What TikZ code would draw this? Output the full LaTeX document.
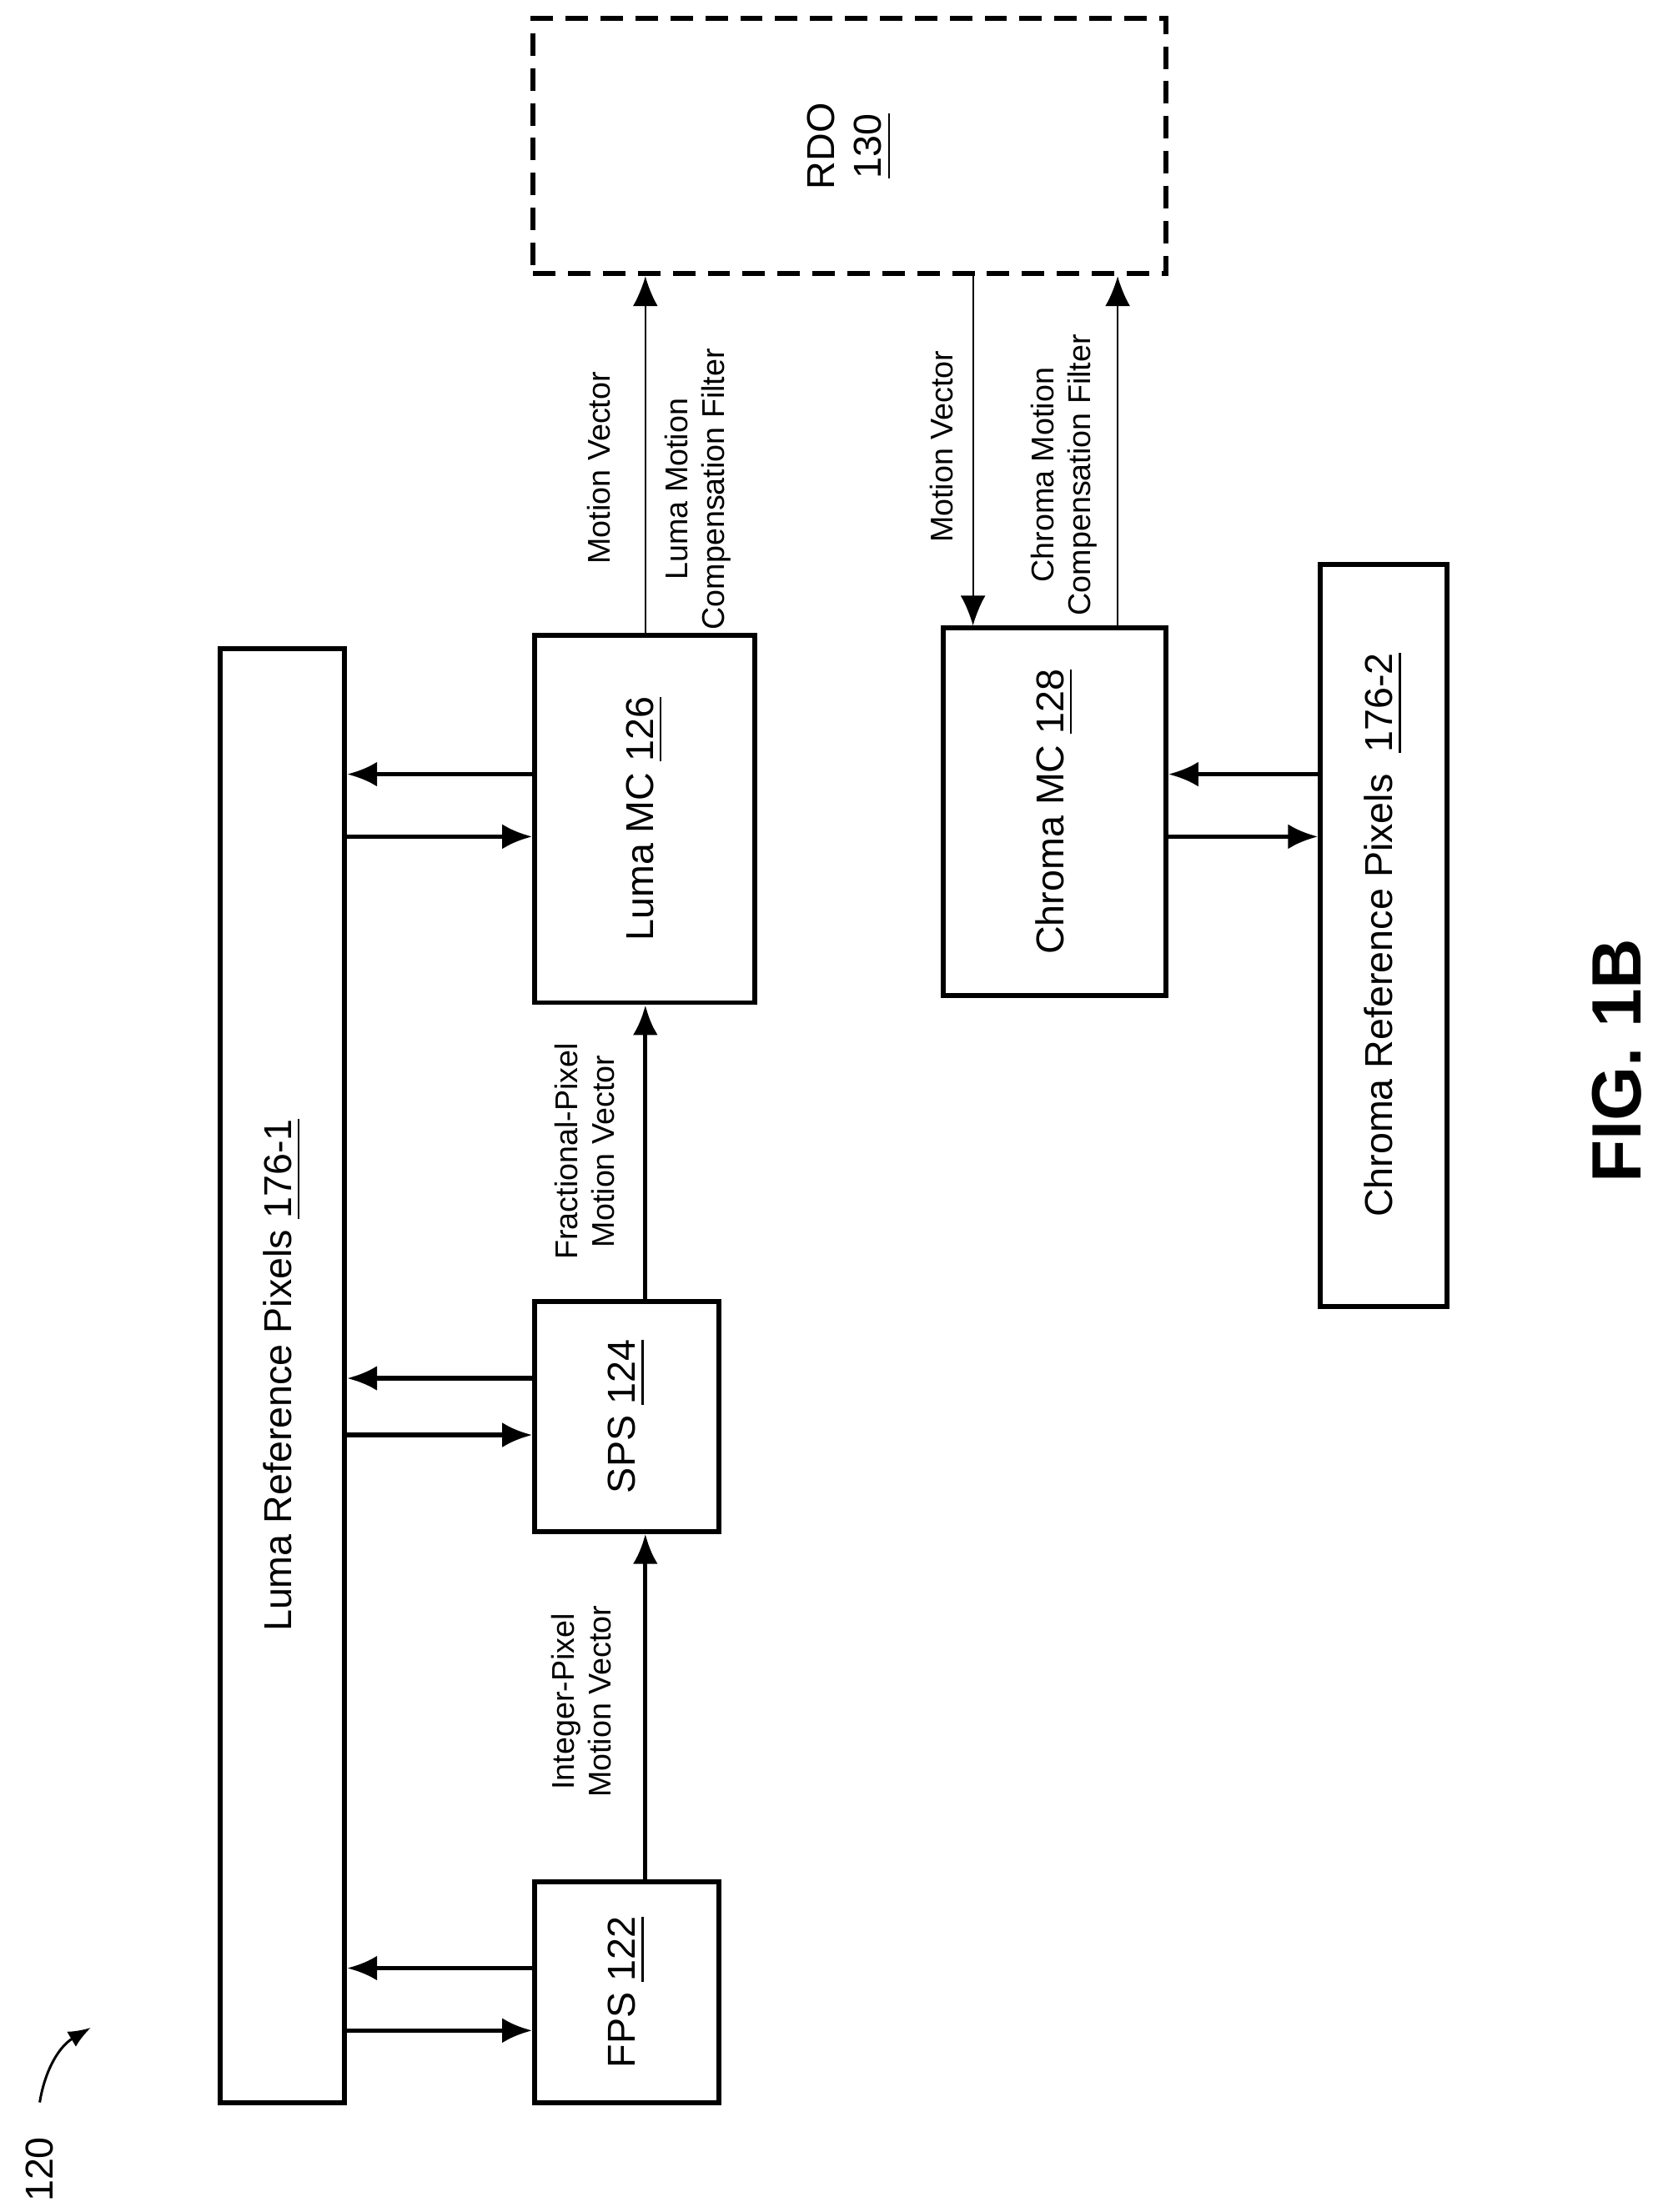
\documentclass[tikz,border=0pt]{standalone}
\usepackage{fontspec}
\setmainfont{Liberation Sans}
\usetikzlibrary{arrows.meta}
\tikzset{
    blk/.style={draw, line width=1pt, inner sep=0pt},
    txt/.style={rotate=90, font=\fontsize{7.8}{9.4}\selectfont, align=center},
    lbl/.style={rotate=90, font=\fontsize{6.3}{7.4}\selectfont, align=center},
    thk/.style={line width=0.9pt, -{Latex[length=6pt,width=5pt]}},
    thn/.style={line width=0.35pt, -{Latex[length=6pt,width=5pt]}},
}
\begin{document}
\begin{tikzpicture}[x=0.01cm, y=-0.01cm]
        \useasboundingbox (0,0) rectangle (1165,1560);

        % blocks
        \node[blk, minimum width=0.88cm, minimum height=10.25cm] (lref) at (199,970) {};
        \node[blk, minimum width=1.3cm, minimum height=1.56cm] (fps) at (442,1405) {};
        \node[blk, minimum width=1.3cm, minimum height=1.62cm] (sps) at (442,999) {};
        \node[blk, minimum width=1.55cm, minimum height=2.59cm] (lmc) at (454.5,577.5) {};
        \node[blk, minimum width=1.57cm, minimum height=2.59cm] (cmc) at (743.5,572.5) {};
        \node[blk, minimum width=0.89cm, minimum height=5.23cm] (cref) at (975.5,659.5) {};
        \node[blk, dashed, dash pattern=on 4.5pt off 2.5pt, minimum width=4.46cm, minimum height=1.8cm] (rdo) at (599,103) {};

        \node[txt] at (lref.center) {Luma Reference Pixels \underline{176-1}};
        \node[txt] at (fps.center) {FPS \underline{122}};
        \node[txt] at (sps.center) {SPS \underline{124}};
        \node[txt] at (lmc.center) {Luma MC \underline{126}};
        \node[txt] at (cmc.center) {Chroma MC \underline{128}};
        \node[txt] at (cref.center) {Chroma Reference Pixels\ \ \underline{176-2}};
        \node[txt] at (rdo.center) {RDO\\\underline{130}};

        % reference pixel traffic
        \foreach \ya/\yb/\blkname in {1388/1432/fps, 972/1012/sps, 546/590/lmc} {
            \draw[thk] (\blkname.west |- 0,\ya) -- (lref.east |- 0,\ya);
            \draw[thk] (lref.east |- 0,\yb) -- (\blkname.west |- 0,\yb);
        }
        \draw[thk] (cref.west |- 0,546) -- (cmc.east |- 0,546);
        \draw[thk] (cmc.east |- 0,590) -- (cref.west |- 0,590);

        % motion vectors
        \draw[thk] (fps.north -| 455,0) -- (sps.south -| 455,0);
        \node[lbl] at (410,1200) {Integer-Pixel\\Motion Vector};
        \draw[thk] (sps.north -| 455,0) -- (lmc.south -| 455,0);
        \node[lbl] at (412,812) {Fractional-Pixel\\Motion Vector};
        \draw[thn] (lmc.north -| 455,0) -- (rdo.south -| 455,0);
        \node[lbl] at (422,330) {Motion Vector};
        \node[lbl] at (492,345) {Luma Motion\\Compensation Filter};
        \draw[thn] (rdo.south -| 686,0) -- (cmc.north -| 686,0);
        \node[lbl] at (664,315) {Motion Vector};
        \draw[thn] (cmc.north -| 788,0) -- (rdo.south -| 788,0);
        \node[lbl] at (750,335) {Chroma Motion\\Compensation Filter};

        % figure label
        \node[rotate=90, font=\fontsize{14}{16}\selectfont\bfseries] (fig) at (1140,748) {FIG. 1B};
        \node[lbl, font=\fontsize{7.8}{9.4}\selectfont] (ref) at (28,1530) {120};
        \coordinate (tip) at (64,1430);
        \draw[line width=0.5pt, -{Latex[length=4.5pt,width=3.5pt]}] (ref.east) ++(0,-12) to[bend left=25] (tip);
\end{tikzpicture}
\end{document}
